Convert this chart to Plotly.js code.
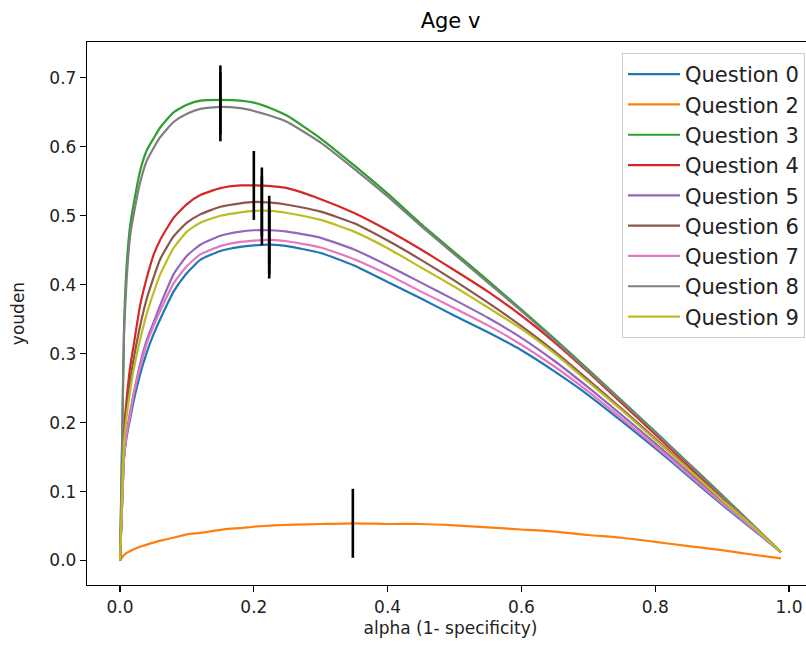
<!DOCTYPE html>
<html>
<head>
<meta charset="utf-8">
<script src="https://cdn.plot.ly/plotly-3.0.1.min.js"></script>
<style>
html, body { margin: 0; padding: 0; overflow: hidden; background: #fff; }
#chart { width: 822px; height: 651px; }
</style>
</head>
<body>
<div id="chart"></div>
<script>
// alpha (1 - specificity) grid shared by most questions
const alpha = [0, 0.003, 0.006, 0.01, 0.015, 0.02, 0.03, 0.04, 0.05, 0.06, 0.08, 0.1, 0.12, 0.15, 0.18, 0.2, 0.225, 0.25, 0.3, 0.35, 0.4, 0.45, 0.5, 0.55, 0.6, 0.65, 0.7, 0.75, 0.8, 0.85, 0.9, 0.95, 0.988];
const alphaQ2 = [0, 0.005, 0.01, 0.02, 0.03, 0.05, 0.065, 0.08, 0.1, 0.12, 0.14, 0.16, 0.18, 0.2, 0.23, 0.26, 0.3, 0.348, 0.4, 0.45, 0.5, 0.55, 0.6, 0.65, 0.7, 0.75, 0.8, 0.85, 0.9, 0.95, 0.988];

const q0 = [0, 0.08, 0.15, 0.18, 0.205, 0.23, 0.27, 0.302, 0.328, 0.35, 0.39, 0.417, 0.436, 0.449, 0.455, 0.457, 0.458, 0.456, 0.446, 0.428, 0.404, 0.38, 0.355, 0.331, 0.305, 0.274, 0.24, 0.202, 0.163, 0.122, 0.081, 0.042, 0.012];
const q2 = [0, 0.007, 0.011, 0.016, 0.02, 0.026, 0.030, 0.033, 0.038, 0.040, 0.043, 0.046, 0.047, 0.049, 0.051, 0.052, 0.053, 0.054, 0.053, 0.053, 0.051, 0.048, 0.045, 0.042, 0.037, 0.033, 0.027, 0.021, 0.015, 0.008, 0.003];
const q3 = [0, 0.17, 0.34, 0.43, 0.485, 0.515, 0.565, 0.595, 0.612, 0.628, 0.65, 0.661, 0.667, 0.668, 0.667, 0.664, 0.656, 0.645, 0.612, 0.573, 0.532, 0.488, 0.447, 0.406, 0.364, 0.321, 0.277, 0.232, 0.187, 0.141, 0.095, 0.048, 0.012];
const q4 = [0, 0.1, 0.19, 0.235, 0.28, 0.31, 0.37, 0.41, 0.443, 0.465, 0.497, 0.517, 0.53, 0.54, 0.544, 0.544, 0.543, 0.54, 0.524, 0.504, 0.479, 0.451, 0.421, 0.39, 0.355, 0.316, 0.273, 0.228, 0.183, 0.137, 0.091, 0.047, 0.012];
const q5 = [0, 0.08, 0.15, 0.185, 0.215, 0.24, 0.285, 0.32, 0.345, 0.37, 0.415, 0.442, 0.458, 0.471, 0.477, 0.479, 0.479, 0.477, 0.468, 0.451, 0.428, 0.403, 0.378, 0.352, 0.323, 0.289, 0.251, 0.211, 0.17, 0.128, 0.085, 0.044, 0.012];
const q6 = [0, 0.09, 0.18, 0.22, 0.26, 0.29, 0.34, 0.38, 0.41, 0.437, 0.47, 0.49, 0.502, 0.513, 0.518, 0.52, 0.519, 0.516, 0.506, 0.489, 0.464, 0.436, 0.406, 0.374, 0.34, 0.303, 0.262, 0.22, 0.177, 0.133, 0.089, 0.046, 0.012];
const q7 = [0, 0.08, 0.15, 0.185, 0.21, 0.24, 0.28, 0.315, 0.34, 0.362, 0.402, 0.427, 0.444, 0.456, 0.462, 0.464, 0.465, 0.463, 0.454, 0.437, 0.415, 0.39, 0.366, 0.341, 0.313, 0.281, 0.245, 0.206, 0.166, 0.124, 0.083, 0.043, 0.012];
const q8 = [0, 0.16, 0.33, 0.41, 0.47, 0.5, 0.548, 0.58, 0.598, 0.614, 0.636, 0.648, 0.655, 0.658, 0.656, 0.652, 0.645, 0.636, 0.606, 0.568, 0.528, 0.485, 0.444, 0.403, 0.362, 0.319, 0.275, 0.231, 0.186, 0.14, 0.094, 0.048, 0.012];
const q9 = [0, 0.09, 0.17, 0.21, 0.245, 0.275, 0.32, 0.358, 0.388, 0.415, 0.453, 0.477, 0.49, 0.5, 0.505, 0.507, 0.507, 0.504, 0.494, 0.477, 0.453, 0.425, 0.397, 0.367, 0.336, 0.3, 0.259, 0.218, 0.175, 0.132, 0.088, 0.046, 0.012];

const names = ["Question 0", "Question 2", "Question 3", "Question 4", "Question 5", "Question 6", "Question 7", "Question 8", "Question 9"];
const colors = ["#1f77b4", "#ff7f0e", "#2ca02c", "#d62728", "#9467bd", "#8c564b", "#e377c2", "#7f7f7f", "#bcbd22"];
const series = [q0, q2, q3, q4, q5, q6, q7, q8, q9];
const xsFor = [alpha, alphaQ2, alpha, alpha, alpha, alpha, alpha, alpha, alpha];

// location of maximum youden per question (marked with a black vertical bar)
const peakX = [0.223, 0.348, 0.15, 0.2, 0.223, 0.212, 0.223, 0.15, 0.212];
const peakY = [0.459, 0.054, 0.668, 0.544, 0.479, 0.520, 0.465, 0.658, 0.507];
const barHalf = 0.05;

const traces = [];
for (let i = 0; i < names.length; i++) {
  traces.push({
    x: xsFor[i], y: series[i], type: 'scatter', mode: 'lines', name: names[i],
    line: {color: colors[i], width: 2.2, shape: 'spline', smoothing: 0.5}
  });
}
for (let i = 0; i < names.length; i++) {
  traces.push({
    x: [peakX[i], peakX[i]], y: [peakY[i] - barHalf, peakY[i] + barHalf],
    type: 'scatter', mode: 'lines', showlegend: false, hoverinfo: 'skip',
    line: {color: '#000000', width: 2.6}
  });
}

const FAM = 'DejaVu Sans, sans-serif';
const layout = {
  width: 822, height: 651,
  margin: {l: 87, r: 8, t: 42, b: 66},
  paper_bgcolor: '#fff', plot_bgcolor: '#fff',
  font: {family: FAM, color: '#000', size: 17},
  title: {text: 'Age v', font: {family: FAM, size: 21, color: '#000'},
          xref: 'paper', x: 0.5, xanchor: 'center', yref: 'container', y: 1 - 21/651, yanchor: 'middle'},
  xaxis: {
    range: [-0.0494, 1.0374], tickmode: 'array', tickvals: [0, 0.2, 0.4, 0.6, 0.8, 1.0], tickformat: '.1f',
    showline: true, mirror: true, linecolor: '#000', linewidth: 1.2,
    ticks: 'outside', ticklen: 6, tickwidth: 1.2, tickcolor: '#000',
    showgrid: false, zeroline: false,
    tickfont: {family: FAM, size: 17, color: '#222'},
    title: {text: 'alpha (1- specificity)', font: {family: FAM, size: 17, color: '#222'}, standoff: 6}
  },
  yaxis: {
    range: [-0.0355, 0.752], tickmode: 'array', tickvals: [0, 0.1, 0.2, 0.3, 0.4, 0.5, 0.6, 0.7], tickformat: '.1f',
    showline: true, mirror: true, linecolor: '#000', linewidth: 1.2,
    ticks: 'outside', ticklen: 6, tickwidth: 1.2, tickcolor: '#000',
    showgrid: false, zeroline: false,
    tickfont: {family: FAM, size: 17, color: '#222'},
    title: {text: 'youden', font: {family: FAM, size: 17, color: '#222'}, standoff: 20}
  },
  legend: {
    x: (805 - 87) / 727, xanchor: 'right', y: 1 - (53 - 42) / 543, yanchor: 'top',
    bgcolor: 'rgba(255,255,255,0.8)', bordercolor: '#cccccc', borderwidth: 1,
    font: {family: FAM, size: 21, color: '#222'},
    itemwidth: 52,
    tracegroupgap: 0
  },
  showlegend: true
};

Plotly.newPlot('chart', traces, layout, {displayModeBar: false, staticPlot: true});
</script>
</body>
</html>
